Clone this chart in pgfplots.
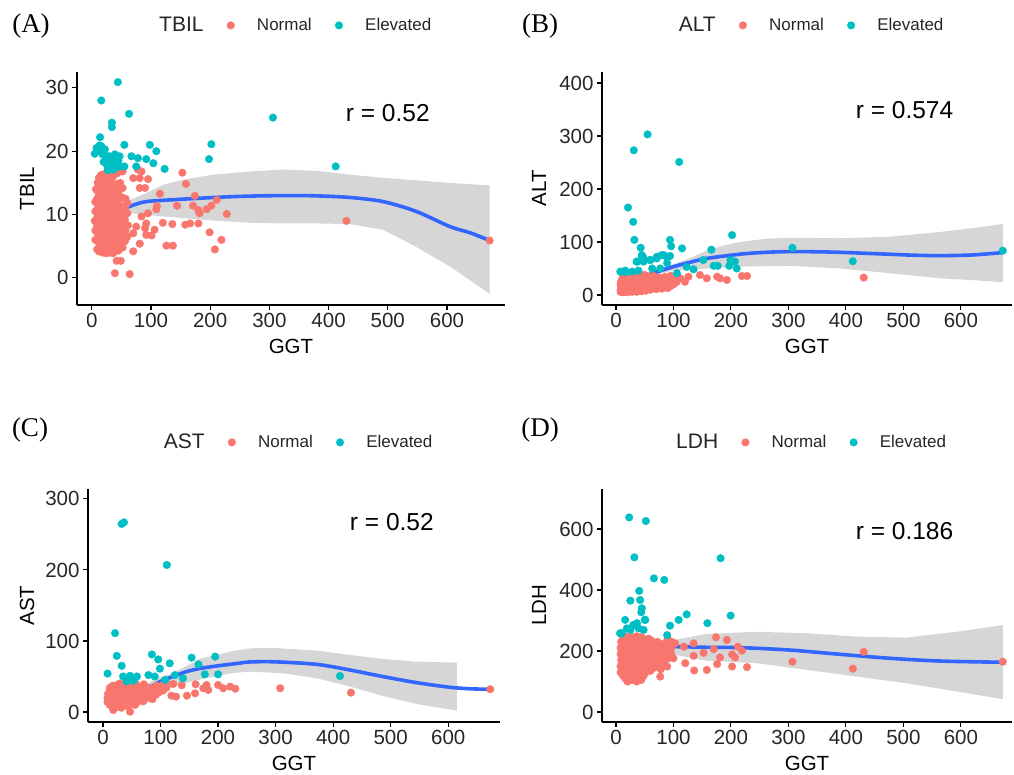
\documentclass[border=0pt]{standalone}
\usepackage{pgfplots}
\pgfplotsset{compat=1.18}
\usepackage{fontspec}
\setmainfont{Liberation Sans}
\newfontfamily\timesfont{Liberation Serif}

\definecolor{normalc}{HTML}{F8766D}
\definecolor{elevc}{HTML}{00BFC4}
\definecolor{smoothc}{HTML}{3366FF}
\definecolor{grey60}{HTML}{999999}

\tikzset{rtext/.style={font=\fontsize{24.5}{28}\selectfont, anchor=center}}
\pgfplotsset{
  panel/.style={
    scale only axis, height=233pt,
    axis lines=left, axis line style={-, line width=1.3pt, black},
    tick align=outside, major tick length=5pt, tick style={line width=1.1pt, black},
    tick label style={font=\fontsize{20.5}{24}\selectfont, text=black!85},
    /pgf/number format/assume math mode=true,
    xtick={0,100,...,600},
    label style={font=\fontsize{20.5}{24}\selectfont},
    xlabel={GGT},
    xlabel style={at={(axis description cs:0.5,0)}, anchor=north, yshift=-34pt, inner sep=0pt},
    legend style={at={(0.51,1.2)}, anchor=center, draw=none, fill=none, inner sep=0pt,
      legend columns=-1, font=\fontsize{17}{20}\selectfont, text=black!85,
      nodes={inner sep=0pt}, column sep=0pt},
    legend image code/.code={\path (0pt,0pt) (53pt,0pt); \draw[##1] plot coordinates {(27pt,0pt)};},
  },
  normalpts/.style={only marks, mark=*, mark size=3.8pt, color=normalc, mark options={draw=none, fill=normalc}},
  elevpts/.style={only marks, mark=*, mark size=3.8pt, color=elevc, mark options={draw=none, fill=elevc}},
  band/.style={fill=grey60, fill opacity=0.4, draw=none, forget plot},
  smoothfit/.style={smoothc, line width=3.6pt, smooth, forget plot},
}

\begin{document}
\begin{tikzpicture}
\useasboundingbox (0pt,0pt) rectangle (1014pt,775pt);

\node[font=\timesfont\fontsize{27}{30}\selectfont] at (31pt,749pt) {(A)};
\node[font=\timesfont\fontsize{27}{30}\selectfont] at (540pt,749pt) {(B)};
\node[font=\timesfont\fontsize{27}{30}\selectfont] at (30pt,345pt) {(C)};
\node[font=\timesfont\fontsize{27}{30}\selectfont] at (540pt,345pt) {(D)};

% (A) TBIL
\begin{axis}[panel, at={(77pt,470pt)}, anchor=south west, width=428pt,
  xmin=-25, xmax=698, ymin=-4.27, ymax=32.5, ytick={0,10,20,30},
  ylabel={TBIL}, ylabel style={at={(axis description cs:0,0.5)}, anchor=center, yshift=50pt}]
\addlegendimage{empty legend}\addlegendentry{\fontsize{21}{24}\selectfont TBIL}
\addplot[normalpts] coordinates {
(6,6) (6,7.5) (5,9) (6,10.5) (6,12) (7,14)
(9,4.5) (9,6) (10,7) (9,8.2) (9,9.5) (10,11) (9,12.5) (9,13.8) (10,15)
(12,4.2) (12,5.5) (13,6.8) (12,8) (12,9.3) (13,10.6) (12,12) (12,13.3) (13,14.6) (12,15.8)
(15,5) (16,6.2) (15,7.5) (15,8.8) (16,10) (15,11.3) (15,12.6) (16,13.9) (15,15.2) (15,16.2)
(18,4) (18,5.3) (19,6.6) (18,7.9) (18,9.1) (19,10.4) (18,11.7) (18,13) (19,14.3) (18,15.5)
(21,4.8) (22,6) (21,7.3) (21,8.6) (22,9.9) (21,11.2) (21,12.5) (22,13.8) (21,15) (21,16.4)
(24,3.9) (24,5.5) (25,6.8) (24,8.1) (24,9.4) (25,10.7) (24,12) (24,13.3) (25,14.6) (24,15.9)
(27,4.5) (28,5.9) (27,7.2) (27,8.5) (28,9.8) (27,11.1) (27,12.4) (28,13.7) (27,15.1) (27,16.2)
(30,4) (30,5.3) (31,6.6) (30,7.9) (30,9.2) (31,10.5) (30,11.8) (30,13.1) (31,14.4) (30,15.7)
(33,4.7) (34,6) (33,7.3) (33,8.6) (34,9.9) (33,11.2) (33,12.5) (34,13.8) (33,15)
(36,3.9) (36,5.4) (37,6.7) (36,8) (36,9.3) (37,10.6) (36,11.9) (36,13.2) (37,14.6) (36,16)
(39,4.6) (40,6) (39,7.4) (39,8.7) (40,10) (39,11.4) (39,12.7) (40,14)
(42,5.2) (42,6.5) (43,7.9) (42,9.2) (42,10.5) (43,11.8) (42,13.2) (42,14.8) (43,16.5)
(45,4.3) (46,5.8) (45,7.1) (45,8.4) (46,9.8) (45,11.1) (45,12.5) (46,13.8)
(48,5.5) (48,7) (49,8.5) (48,10) (48,11.4) (49,12.8) (48,15)
(52,4.8) (52,6.4) (53,8) (52,9.6) (52,11.2) (53,12.6) (52,14.2) (52,16.8)
(56,5.8) (57,7.5) (56,9.2) (56,11) (57,12.5)
(60,6.5) (61,8.3) (60,10.2) (60,11.8)
(153,16.6) (159,14.85) (115,13.3) (144,11.4) (174,12.95) (171,11.4) (180,10.7) (182,10.2)
(194,10.85) (202,11.4) (211,12.3) (228,10.1) (199,7.2) (219,6.0) (208,4.5) (158,8.4)
(166,8.6) (180,8.6) (136,8.5) (126,5.1) (137,5.1) (120,8.7) (109,10.85) (64,0.6)
(39,0.74) (42,2.7) (49,2.7) (70,4.2) (81,5.4) (101,6.7) (106,7.6) (92,6.8)
(70,15.75) (81,15.75) (95,15.6) (81,14.2) (90,14.2) (84,16.8) (78,17.1) (95,10.2)
(92,8.6) (90,7.85) (110,11.3) (84,9.7) (75,8.1) (70,7.05) (430,9.0) (672,5.9)
};
\addlegendentry{Normal}
\addplot[elevpts] coordinates {
(44,30.9) (16,28) (63,25.9) (34,24.5) (34,23.8) (14,22.2) (13,20.9) (16,20.8)
(10,20) (19,19.7) (55,21) (98,21) (109,20) (67,19.2) (78,18.9) (92,18.75)
(104,18.1) (75,17.6) (55,17.6) (123,17.2) (198,18.75) (202,21.1) (306,25.3) (412,17.6)
(23,18.6) (25,19.2) (26.5,17.6) (30,18.1) (30,19.2) (36,18.6) (36,17.1) (42,19.2)
(42,18.1) (47,19.2) (47,17.6) (20,18.3) (28,17.3) (33,17.8) (39,19.5) (45,18.5)
(18,19.5) (22,20.3) (27,17) (40,17.4) (5,19.6) (8,20.5)
};
\addlegendentry{Elevated}
\addplot[band] coordinates {
(8,11.0) (30,11.8) (53,11.6) (64,12.3) (90,13.3) (120,14.7) (160,15.6) (205,16.3)
(267,16.8) (323,17.1) (380,16.9) (436,16.3) (492,15.8) (548,15.4) (605,15.0) (672,14.6)
(672,-2.5) (605,1.8) (548,4.9) (492,7.6) (436,8.5) (380,8.6) (323,8.6) (267,8.7)
(205,9.05) (160,9.4) (120,9.7) (90,10.0) (64,10.2) (53,10.2) (30,10.4) (8,9.2)
};
\addplot[smoothfit] coordinates {
(8,10.1) (20,10.2) (36,11.1) (53,10.9) (70,11.5) (92,12.05) (130,12.3) (177,12.55)
(230,12.8) (284,12.95) (340,13.0) (380,12.95) (436,12.7) (492,12.05) (548,10.5) (605,8.1)
(640,7.1) (672,5.9)
};
\node[rtext] at (axis cs:500,26) {r = 0.52};
\end{axis}

% (B) ALT
\begin{axis}[panel, at={(602pt,470pt)}, anchor=south west, width=410pt,
  xmin=-24.3, xmax=689, ymin=-18.9, ymax=420.8, ytick={0,100,...,400},
  ylabel={ALT}, ylabel style={at={(axis description cs:0,0.5)}, anchor=center, yshift=63pt}]
\addlegendimage{empty legend}\addlegendentry{\fontsize{21}{24}\selectfont ALT}
\addplot[normalpts] coordinates {
(8,6) (8,10) (9,15) (8,20) (9,26)
(12,5) (12,9) (13,13) (12,18) (12,23) (13,28) (12,34)
(16,6) (16,11) (17,16) (16,21) (16,27) (17,32) (16,38)
(20,5) (20,9) (21,14) (20,19) (20,25) (21,30) (20,36)
(24,7) (24,12) (25,17) (24,22) (24,28) (25,33) (24,39)
(28,6) (28,10) (29,15) (28,20) (28,26) (29,31) (28,37)
(32,8) (32,13) (33,18) (32,24) (32,29) (33,35) (32,40)
(36,6) (36,11) (37,16) (36,22) (36,27) (37,33)
(40,9) (40,14) (41,19) (40,25) (40,30) (41,36)
(44,7) (44,12) (45,17) (44,23) (44,28) (45,34)
(48,10) (48,15) (49,21) (48,26) (48,32) (49,38)
(52,8) (52,13) (53,19) (52,24) (52,30) (53,36)
(56,12) (56,17) (57,22) (56,28) (56,34)
(60,10) (60,15) (61,20) (60,26) (60,32)
(65,13) (65,18) (66,24) (65,30) (65,36)
(70,11) (70,16) (71,22) (70,28)
(75,14) (75,20) (76,26) (75,33)
(80,12) (80,18) (81,24) (80,30)
(85,15) (85,21) (86,27) (85,34)
(90,13) (90,19) (91,25) (90,31)
(95,17) (95,23) (96,29) (95,36)
(100,20) (100,27) (101,33) (105,24) (105,30)
(431,32.7) (146,37.7) (158,31.4) (176,34.5) (181,31.4) (193,28.3) (219,35.8) (228,35.8)
(126,34.5) (120,25) (112,31.4)
};
\addlegendentry{Normal}
\addplot[elevpts] coordinates {
(55,303) (31,273) (110,251) (21,165) (30,138) (32,104) (94,104) (96,92)
(43,89) (115,88) (202,113) (166,85.5) (307,89) (412,63.6) (673,83.6) (45,73.6)
(47,72) (37,63) (48,63) (60,66) (71,72) (83,75.5) (94,73.6) (89,60)
(7.5,44) (16,46) (28,44) (39,46) (63,50) (77,50) (106,41) (123,53)
(135,48.5) (152,66) (170,55) (177,55) (199,66) (207,63) (210,50) (197,55)
(16,43) (36,63) (45,75) (59,66) (71,69) (79,75) (88,72)
};
\addlegendentry{Elevated}
\addplot[band] coordinates {
(10,21) (42,37) (70,48) (100,58) (130,70) (158,84) (190,94) (216,100)
(260,106) (303,108) (390,107) (477,110) (564,119) (620,126) (673,134)
(673,24) (620,28) (564,31.4) (477,41) (390,50) (303,55) (216,53.5) (158,50)
(130,47) (100,46) (70,38) (42,26) (10,8)
};
\addplot[smoothfit] coordinates {
(10,14.5) (42,31.5) (70,43) (100,53.4) (130,62) (158,69) (216,77) (260,80.5)
(303,81.8) (350,81.5) (390,80.5) (430,78.8) (477,76.8) (520,75) (564,74.2) (620,75.5)
(672,79.9)
};
\node[rtext] at (axis cs:502,349) {r = 0.574};
\end{axis}

% (C) AST
\begin{axis}[panel, at={(88pt,53pt)}, anchor=south west, width=412pt,
  xmin=-26, xmax=690, ymin=-14.1, ymax=314, ytick={0,100,...,300},
  ylabel={AST}, ylabel style={at={(axis description cs:0,0.5)}, anchor=center, yshift=61pt}]
\addlegendimage{empty legend}\addlegendentry{\fontsize{21}{24}\selectfont AST}
\addplot[normalpts] coordinates {
(8,14) (8,20) (9,26)
(12,10) (12,16) (13,22) (12,28) (12,34)
(16,8) (16,13) (17,19) (16,25) (16,31) (17,37)
(20,11) (20,17) (21,23) (20,29) (20,35)
(24,7) (24,14) (25,20) (24,26) (24,32) (25,38)
(28,10) (28,16) (29,22) (28,28) (28,34) (29,40)
(32,6) (32,13) (33,19) (32,25) (32,31) (33,37)
(36,9) (36,15) (37,21) (36,27) (36,33) (37,39)
(40,12) (40,18) (41,24) (40,30) (40,36)
(44,8) (44,14) (45,20) (44,26) (44,32) (45,38)
(48,11) (48,17) (49,23) (48,29) (48,35)
(52,13) (52,19) (53,25) (52,31) (52,37)
(56,10) (56,16) (57,22) (56,28) (56,34) (57,40)
(60,14) (60,20) (61,26) (60,32)
(65,17) (65,23) (66,29) (65,35)
(70,15) (70,21) (71,27) (70,33) (71,39)
(75,19) (75,25) (76,31) (80,22) (80,28) (81,34)
(86,18) (86,26) (87,33) (92,24) (92,30) (93,37)
(98,28) (98,35) (104,30) (104,38) (110,34) (110,41)
(673,32) (431,27.2) (308,33.4) (137,37.6) (161,39) (160,26.3) (146,23) (119,23)
(127,21.6) (180,38) (183,31) (174.5,33.4) (200,38) (209,33.4) (221,35.7) (230,32.8)
(122,39.4) (47,0.4) (18,2.8)
};
\addlegendentry{Normal}
\addplot[elevpts] coordinates {
(32.5,264.8) (36.5,267) (111,207) (21,111) (24,79) (32.5,65) (8,54) (85,81)
(96,74) (99,61) (116,68.5) (154,76.5) (166,67) (195,78) (177,53) (200,53)
(412,50.7) (139,47.5) (35,50) (47,51) (59,50) (41,43) (53,44) (79,52)
(90,50) (108,45) (125,52)
};
\addlegendentry{Elevated}
\addplot[band] coordinates {
(9,26) (35,34) (59,33) (99,49) (122,55) (169,75) (227,86) (256,89.7)
(300,90) (372,86.4) (430,80.3) (487,74.6) (545,70.9) (615,69.5)
(615,1.9) (545,11.3) (487,22.5) (430,35.6) (372,47.4) (314,54.5) (256,56.8) (227,55)
(169,46) (122,35.7) (99,34) (59,22) (35,25) (9,13)
};
\addplot[smoothfit] coordinates {
(9.3,19.3) (20,24) (35,29.6) (59,27.2) (80,34) (99,42.7) (122,50) (145,56.8)
(170,61.5) (198,64.8) (235,68.5) (256,70.5) (300,70.6) (372,67) (430,59) (487,49.8)
(545,41.3) (603,34.8) (640,32.6) (673,32)
};
\node[rtext] at (axis cs:502,268) {r = 0.52};
\end{axis}

% (D) LDH
\begin{axis}[panel, at={(602pt,53pt)}, anchor=south west, width=410pt,
  xmin=-24.3, xmax=689, ymin=-32.8, ymax=731, ytick={0,200,400,600},
  ylabel={LDH}, ylabel style={at={(axis description cs:0,0.5)}, anchor=center, yshift=63pt}]
\addlegendimage{empty legend}\addlegendentry{\fontsize{21}{24}\selectfont LDH}
\addplot[normalpts] coordinates {
(8,130) (8,150) (9,170) (8,190) (8,210) (9,230)
(12,120) (12,140) (13,160) (12,180) (12,200) (13,220) (12,240)
(16,110) (16,130) (17,150) (16,170) (16,190) (17,210) (16,230) (16,248)
(20,100) (20,125) (21,145) (20,165) (20,185) (21,205) (20,225) (20,245)
(24,115) (24,135) (25,155) (24,175) (24,195) (25,215) (24,235)
(28,105) (28,125) (29,145) (28,165) (28,185) (29,205) (28,225) (28,245)
(32,118) (32,138) (33,158) (32,178) (32,198) (33,218) (32,238)
(36,100) (36,128) (37,148) (36,168) (36,188) (37,208) (36,228) (36,248)
(40,112) (40,135) (41,155) (40,175) (40,195) (41,215) (40,235)
(44,105) (44,125) (45,145) (44,165) (44,185) (45,205) (44,225) (44,245)
(48,118) (48,140) (49,160) (48,180) (48,200) (49,220) (48,240)
(52,130) (52,150) (53,170) (52,190) (52,210) (53,230)
(56,140) (56,160) (57,180) (56,200) (56,220) (57,240)
(60,135) (60,155) (61,175) (60,195) (60,215) (61,235)
(66,145) (66,165) (67,185) (66,205) (66,225)
(72,150) (72,170) (73,190) (72,210) (72,230)
(78,140) (78,160) (79,180) (78,200) (78,220)
(84,165) (84,185) (85,205) (84,225)
(90,175) (90,195) (91,215) (90,240)
(96,190) (96,210) (97,230)
(673,165) (431,197) (307,165) (412,142) (174,245) (193,236) (212,214) (219,201)
(181,179) (202,189) (207,179) (202,149) (176,157) (158,138) (136,136) (228,147)
(170,206) (152.5,194) (135,184) (120.5,160) (100,176) (77,116) (89,149) (135,225)
(118,214) (103,225)
};
\addlegendentry{Normal}
\addplot[elevpts] coordinates {
(23,638) (52,626) (32,507) (182,504) (66,438) (84,433) (40.5,397) (42,367)
(25,365) (45,340) (44,327) (51,302) (16,302) (123,320) (109,302) (94,283)
(159,291) (199.5,316) (31,285) (39.5,274) (48,269) (25,269) (10,258) (89,252)
(19,274) (36.5,291) (7,258) (30,285) (50,302)
};
\addlegendentry{Elevated}
\addplot[band] coordinates {
(7,198) (31,200) (51,215) (89,232) (100,236) (158,256) (245,263) (332,258)
(419,247) (506,244) (593,263) (673,285)
(673,42) (593,67) (506,94) (419,116) (332,138) (245,160) (158,168) (100,188)
(89,194) (51,195) (31,175) (7,155)
};
\addplot[smoothfit] coordinates {
(7.5,176) (31,187) (51,205) (89,214) (158,212) (216,211) (303,203) (390,189)
(477,176) (564,167) (673,163)
};
\node[rtext] at (axis cs:502,593) {r = 0.186};
\end{axis}
\end{tikzpicture}
\end{document}
